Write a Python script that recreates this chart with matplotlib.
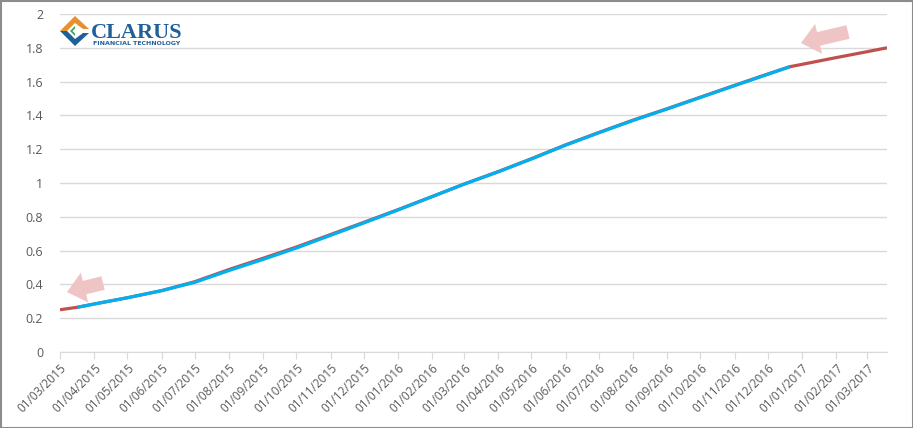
import matplotlib
matplotlib.use("Agg")
import matplotlib.pyplot as plt
import matplotlib.dates as mdates
from matplotlib.patches import Polygon, Rectangle
import numpy as np

# Curve values
red_dates = ["2015-03-01", "2015-03-17", "2015-04-01", "2015-05-01", "2015-06-01",
             "2015-07-01", "2015-08-01", "2015-09-01", "2015-10-01", "2015-11-01",
             "2015-12-01", "2016-01-01", "2016-02-01", "2016-03-01", "2016-04-01",
             "2016-05-01", "2016-06-01", "2016-07-01", "2016-08-01", "2016-09-01",
             "2016-10-01", "2016-11-01", "2016-12-01", "2016-12-21", "2017-01-01",
             "2017-02-01", "2017-03-01", "2017-03-19"]
red_values = [0.250, 0.265, 0.284, 0.321, 0.363,
              0.416, 0.488, 0.555, 0.621, 0.695,
              0.767, 0.842, 0.920, 0.994, 1.068,
              1.144, 1.226, 1.299, 1.372, 1.440,
              1.508, 1.578, 1.645, 1.688, 1.702,
              1.742, 1.777, 1.800]

blue_dates = ["2015-03-17", "2015-04-01", "2015-05-01", "2015-06-01", "2015-07-01",
              "2015-08-01", "2015-09-01", "2015-10-01", "2015-11-01", "2015-12-01",
              "2016-01-01", "2016-02-01", "2016-03-01", "2016-04-01", "2016-05-01",
              "2016-06-01", "2016-07-01", "2016-08-01", "2016-09-01", "2016-10-01",
              "2016-11-01", "2016-12-01", "2016-12-21"]
blue_values = [0.265, 0.284, 0.321, 0.363, 0.412,
               0.482, 0.548, 0.615, 0.690, 0.763,
               0.840, 0.919, 0.993, 1.066, 1.142,
               1.224, 1.297, 1.370, 1.438, 1.506,
               1.576, 1.643, 1.688]

y_ticks = [0, 0.2, 0.4, 0.6, 0.8, 1, 1.2, 1.4, 1.6, 1.8, 2]
y_labels = ["0", "0.2", "0.4", "0.6", "0.8", "1", "1.2", "1.4", "1.6", "1.8", "2"]

RED = "#c0504d"
BLUE = "#00b0f0"
GRID = "#d9d9d9"
TEXT = "#595959"
ARROW = "#eec4c4"
LOGO_BLUE = "#1f5f9a"

plt.rcParams["font.family"] = ["Open Sans", "DejaVu Sans"]

fig = plt.figure(figsize=(9.13, 4.28), dpi=100)
ax = fig.add_axes([60 / 913, 1 - 352 / 428, 827 / 913, 338 / 428])

rd = np.array(red_dates, dtype="datetime64[D]")
bd = np.array(blue_dates, dtype="datetime64[D]")
ax.plot(rd, red_values, color=RED, lw=2.3, solid_capstyle="butt", zorder=3)
ax.plot(bd, blue_values, color=BLUE, lw=2.3, solid_capstyle="butt", zorder=4)

ax.set_xlim(rd[0], rd[-1])
ax.set_ylim(0, 2)
ax.set_yticks(y_ticks)
ax.set_yticklabels(y_labels)
ax.yaxis.grid(True, color=GRID, lw=1)
ax.set_axisbelow(True)

ax.xaxis.set_major_locator(mdates.MonthLocator())
ax.xaxis.set_major_formatter(mdates.DateFormatter("%d/%m/%Y"))
for s in ["top", "right", "left"]:
    ax.spines[s].set_visible(False)
ax.spines["bottom"].set_color(GRID)
ax.tick_params(axis="x", length=5, color=GRID, labelsize=8.5, labelcolor=TEXT, pad=2)
ax.tick_params(axis="y", length=0, labelsize=9, labelcolor=TEXT, pad=12)
plt.setp(ax.get_xticklabels(), rotation=45, ha="right", rotation_mode="anchor")

# pink arrows
arrow_style = "simple,head_length=1.3,head_width=2.2,tail_width=1.0"
ax.annotate("", xy=(67 / 913, 1 - 292 / 428), xytext=(103 / 913, 1 - 283 / 428),
            xycoords="figure fraction", textcoords="figure fraction",
            arrowprops=dict(arrowstyle=arrow_style, mutation_scale=10, color=ARROW,
                            lw=0, shrinkA=0, shrinkB=0))
ax.annotate("", xy=(801 / 913, 1 - 43 / 428), xytext=(848 / 913, 1 - 32 / 428),
            xycoords="figure fraction", textcoords="figure fraction",
            arrowprops=dict(arrowstyle=arrow_style, mutation_scale=10, color=ARROW,
                            lw=0, shrinkA=0, shrinkB=0))


# logo: diamond icon plus text
def fpx(x, y):
    return (x / 913, 1 - y / 428)


def add_poly(points, colour):
    fig.patches.append(Polygon([fpx(*p) for p in points], closed=True,
                               transform=fig.transFigure, facecolor=colour,
                               edgecolor="none"))


add_poly([(60, 31), (75, 16), (89, 29), (83, 29), (75, 23), (67, 31)], "#e8902a")
add_poly([(60, 31), (75, 46), (89, 33), (83, 33), (75, 39), (67, 31)], LOGO_BLUE)
add_poly([(70, 31), (75, 26), (75, 36)], "#3aa856")
add_poly([(72.5, 31), (75, 28.5), (75, 33.5)], "white")

fig.text(91 / 913, 1 - 37.5 / 428, "CLARUS", family="Liberation Serif", fontsize=16,
         fontweight="bold", color=LOGO_BLUE, ha="left", va="baseline")
fig.text(93 / 913, 1 - 45 / 428, "FINANCIAL TECHNOLOGY", family="DejaVu Sans",
         fontsize=4.5, fontweight="bold", color=LOGO_BLUE, ha="left", va="baseline")

# chart border
fig.patches.append(Rectangle((0.5 / 913, 0.5 / 428), 912 / 913, 427 / 428,
                             transform=fig.transFigure, fill=False,
                             edgecolor="#8c8c8c", lw=1.5))

fig.savefig("out.png", dpi=100)
